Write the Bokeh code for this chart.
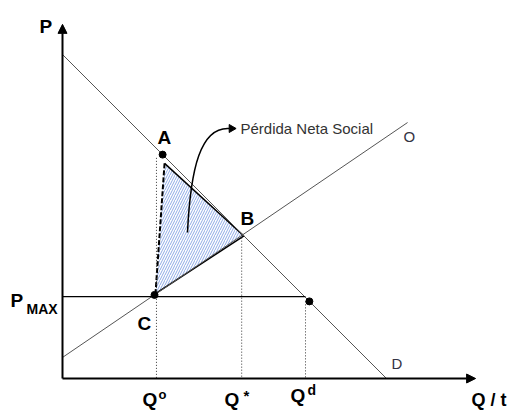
import math
from bokeh.plotting import figure
from bokeh.models import Range1d, Arrow, NormalHead, Label
from bokeh.embed import file_html
from bokeh.resources import INLINE

# ---- data (arbitrary price/quantity units) ----
demand_q = [0, 100]
demand_p = [100, 0]
supply_q = [0, 106.5]
supply_p = [6.5, 79]
p_max = 25.3
q_o = 29.0
q_star = 55.3
q_d = 75.0
point_a = (30.9, 69.1)
point_b = (55.6, 44.4)
point_c = (28.4, 25.8)
point_qd = (76.2, 23.8)
dwl_q = [31.5, 56.0, 28.7]
dwl_p = [66.4, 44.0, 26.2]
axis_q_max = 127.5
axis_p_max = 109.3

# ---- layout: map reference pixels to data units ----
S = 3.24          # px per unit
OX, OY = 62, 378  # origin in picture px
W, H = 509, 410

def dx(px):
    return (px - OX) / S

def dy(py):
    return (OY - py) / S

p = figure(width=W, height=H, output_backend="svg", toolbar_location=None,
           x_range=Range1d(dx(0), dx(W)), y_range=Range1d(dy(H), dy(0)),
           min_border=0, x_axis_type=None, y_axis_type=None)
p.grid.visible = False
p.outline_line_color = None
p.background_fill_color = "white"

# dead-weight-loss triangle
p.patch(dwl_q, dwl_p, fill_color="white", line_color=None,
        hatch_pattern="/", hatch_color="#8eaae6", hatch_scale=5, hatch_weight=1)
p.line([dwl_q[0], dwl_q[1]], [dwl_p[0], dwl_p[1]], line_color="black", line_width=1.5)
p.line([dwl_q[2], dwl_q[1]], [dwl_p[2], dwl_p[1]], line_color="black", line_width=1.5)
p.line([dwl_q[0], dwl_q[2]], [dwl_p[0], dwl_p[2]], line_color="black", line_width=2,
       line_dash="5 2")

# demand & supply
p.line(demand_q, demand_p, line_color="#555555", line_width=1)
p.line(supply_q, supply_p, line_color="#555555", line_width=1)

# price ceiling
p.line([0, q_d], [p_max, p_max], line_color="black", line_width=1.3)

# dotted guides
p.line([q_o, q_o], [point_a[1] - 1, 0], line_color="#333333", line_width=1, line_dash="1 2")
p.line([q_star, q_star], [point_b[1], 0], line_color="#333333", line_width=1, line_dash="1 2")
p.line([q_d, q_d], [point_qd[1], 0], line_color="#333333", line_width=1, line_dash="1 2")

# points
p.scatter([point_a[0], point_c[0], point_qd[0]], [point_a[1], point_c[1], point_qd[1]],
          size=7, color="black")

# axes with arrows
p.add_layout(Arrow(end=NormalHead(size=9, fill_color="black", line_color="black"),
                   x_start=0, y_start=0, x_end=axis_q_max, y_end=0,
                   line_width=2, line_color="black"))
p.add_layout(Arrow(end=NormalHead(size=9, fill_color="black", line_color="black"),
                   x_start=0, y_start=0, x_end=0, y_end=axis_p_max,
                   line_width=2, line_color="black"))

# curved pointer
p.bezier(x0=[dx(187)], y0=[dy(232)], x1=[dx(229)], y1=[dy(128)],
         cx0=[dx(190)], cy0=[dy(168)], cx1=[dx(200)], cy1=[dy(126)],
         line_color="black", line_width=1.5)
p.scatter([dx(231)], [dy(128)], marker="triangle", size=8, angle=-math.pi / 2,
          color="black")

FONT = "Liberation Sans"

def label(text, px, py, size, bold=True, color="black", align="left"):
    # py is the intended baseline; compensate for renderer baseline offset
    p.add_layout(Label(x=dx(px), y=dy(py - 0.33 * size), text=text, text_font=FONT,
                       text_font_size=f"{size}px",
                       text_font_style="bold" if bold else "normal",
                       text_color=color, text_align=align,
                       text_baseline="alphabetic"))

label("P", 39, 32, 19)
label("A", 157, 143, 19)
label("B", 240, 224, 19)
label("C", 137, 329, 19)
label("P", 10, 306, 19)
label("MAX", 26, 313, 14)
label("Q", 142, 405, 19)
label("o", 158, 398, 13)
label("Q", 224, 405, 19)
label("*", 243, 400, 15)
label("Q", 290, 401, 19)
label("d", 307, 394, 14)
label("Q / t", 471, 405, 18)
label("Pérdida Neta Social", 240, 133, 15, bold=False, color="#333333")
label("O", 403, 141, 15, bold=False, color="#333344")
label("D", 391, 368, 15, bold=False, color="#333344")

open("out.html", "w").write(file_html(p, INLINE))
